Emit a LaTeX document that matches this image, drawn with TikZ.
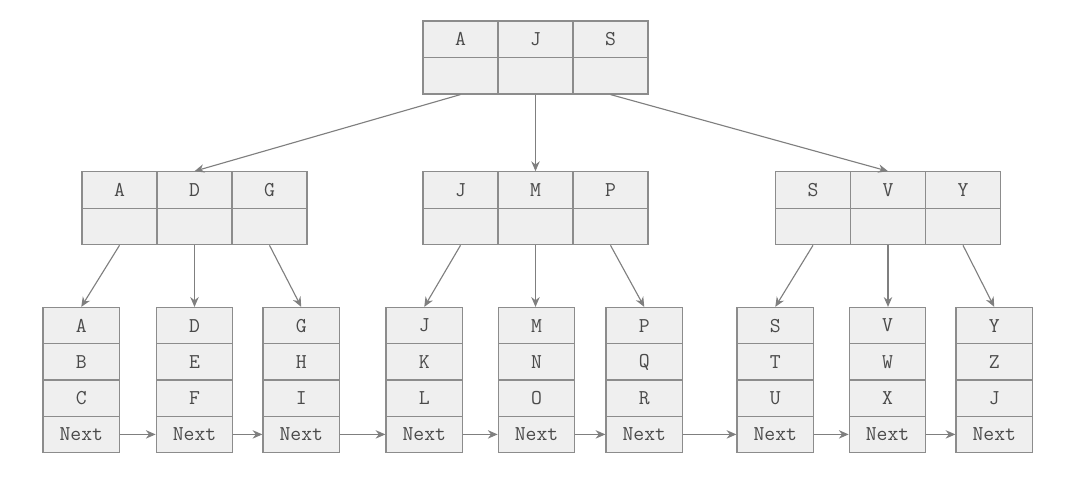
\documentclass[tikz,border=0pt]{standalone}
\usetikzlibrary{arrows.meta}
\definecolor{cellfill}{HTML}{EFEFEF}
\definecolor{cellline}{HTML}{8C8C8C}
\definecolor{arrline}{HTML}{7F7F7F}
\definecolor{celltext}{HTML}{4A4A4A}
\begin{document}
\begin{tikzpicture}[x=0.025cm, y=-0.025cm,
   cell/.style={rectangle, draw=cellline, fill=cellfill, line width=0.8pt, minimum width=1.875cm, minimum height=0.9125cm, inner sep=0pt, text=celltext, font=\ttfamily\fontsize{15}{17}\selectfont},
   leaf/.style={cell, minimum width=1.9125cm, minimum height=0.906cm},
   arr/.style={draw=arrline, line width=0.8pt, -{Stealth[length=7pt,width=6pt]}}]
   \useasboundingbox (0,0) rectangle (1080,476);
   % root
   \node[cell] (rA) at (460.5,39.25) {A};
   \node[cell] (rJ) at (535.5,39.25) {J};
   \node[cell] (rS) at (610.5,39.25) {S};
   \node[cell] (rAp) at (460.5,75.75) {};
   \node[cell] (rJp) at (535.5,75.75) {};
   \node[cell] (rSp) at (610.5,75.75) {};
   % inner nodes
   \node[cell] (nA) at (119.5,190) {A};
   \node[cell] (nD) at (194.5,190) {D};
   \node[cell] (nG) at (269.5,190) {G};
   \node[cell] (nAp) at (119.5,226.5) {};
   \node[cell] (nDp) at (194.5,226.5) {};
   \node[cell] (nGp) at (269.5,226.5) {};
   \node[cell] (nJ) at (460.5,190) {J};
   \node[cell] (nM) at (535.5,190) {M};
   \node[cell] (nP) at (610.5,190) {P};
   \node[cell] (nJp) at (460.5,226.5) {};
   \node[cell] (nMp) at (535.5,226.5) {};
   \node[cell] (nPp) at (610.5,226.5) {};
   \node[cell] (nS) at (813,190) {S};
   \node[cell] (nV) at (888,190) {V};
   \node[cell] (nY) at (963,190) {Y};
   \node[cell] (nSp) at (813,226.5) {};
   \node[cell] (nVp) at (888,226.5) {};
   \node[cell] (nYp) at (963,226.5) {};
   % leaves
   \foreach \x/\a/\b/\c [count=\i] in {81.25/A/B/C, 194.5/D/E/F, 301.25/G/H/I, 424.25/J/K/L, 536.5/M/N/O, 644.25/P/Q/R, 775.25/S/T/U, 887.5/V/W/X, 994.25/Y/Z/J} {
      \node[leaf] (leaf\i) at (\x,325.6) {\a};
      \node[leaf] (leaf\i b) at (\x,361.9) {\b};
      \node[leaf] (leaf\i c) at (\x,398.1) {\c};
      \node[leaf] (next\i) at (\x,434.4) {Next};
   }
   % pointers
   \draw[arr] (rAp.south) -- (nD.north);
   \draw[arr] (rJp.south) -- (nM.north);
   \draw[arr] (rSp.south) -- (nV.north);
   \draw[arr] (nAp.south) -- (leaf1.north);
   \draw[arr] (nDp.south) -- (leaf2.north);
   \draw[arr] (nGp.south) -- (leaf3.north);
   \draw[arr] (nJp.south) -- (leaf4.north);
   \draw[arr] (nMp.south) -- (nMp.south |- leaf5.north);
   \draw[arr] (nPp.south) -- (leaf6.north);
   \draw[arr] (nSp.south) -- (leaf7.north);
   \draw[arr] (nVp.south) -- (nVp.south |- leaf8.north);
   \draw[arr] (nYp.south) -- (leaf9.north);
   \foreach \i [evaluate=\i as \j using int(\i+1)] in {1,...,8}
      \draw[arr] (next\i.east) -- (next\j.west);
\end{tikzpicture}
\end{document}
